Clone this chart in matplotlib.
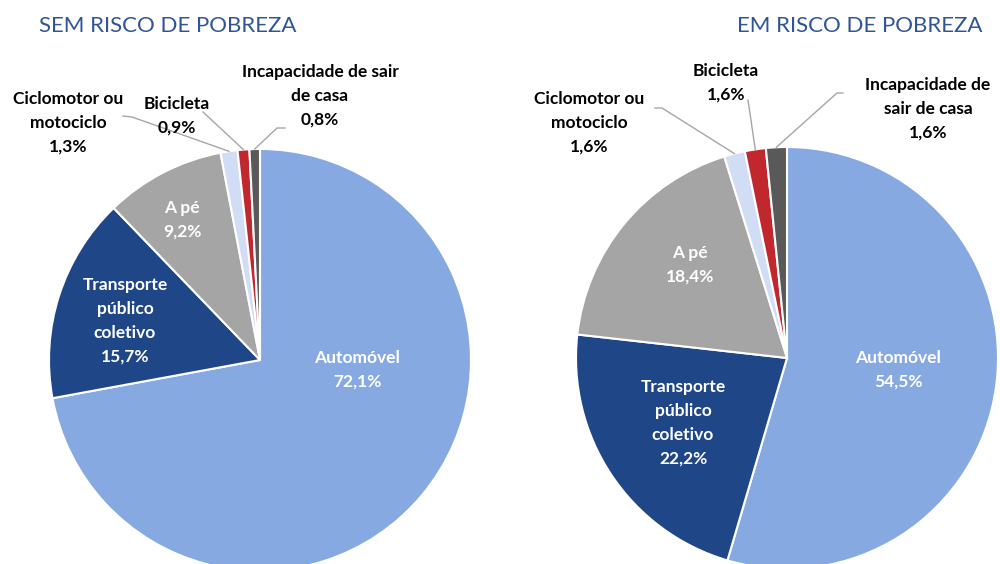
import matplotlib
matplotlib.use("Agg")
from matplotlib import pyplot as plt
import numpy as np

# data
categories = ["Automóvel", "Transporte público coletivo", "A pé",
              "Ciclomotor ou motociclo", "Bicicleta", "Incapacidade de sair de casa"]
sem_risco = [72.1, 15.7, 9.2, 1.3, 0.9, 0.8]
em_risco = [54.5, 22.2, 18.4, 1.6, 1.6, 1.6]
titles = ["SEM RISCO DE POBREZA", "EM RISCO DE POBREZA"]

colors = ["#87A9E1", "#1F4787", "#A5A5A5", "#D0DDF4", "#C0282E", "#595959"]
inside_color = "white"

plt.rcParams['font.family'] = ['Lato', 'DejaVu Sans']

fig = plt.figure(figsize=(10, 5.64), dpi=100)
ax = fig.add_axes([0, 0, 1, 1])


def fmt(v):
    return f"{v:.1f}".replace(".", ",") + "%"


# label layout (pixel positions, y down) for each pie
layouts = [
    {
        "center": (260, 360), "radius": 211, "title": (168, 26),
        "labels": [
            ("Automóvel", (357, 370), None),
            ("Transporte\npúblico\ncoletivo", (125, 321), None),
            ("A pé", (182, 220), None),
            ("Ciclomotor ou\nmotociclo", (68, 123), [(123, 116), (132, 117)]),
            ("Bicicleta", (177, 116), [(203, 112)]),
            ("Incapacidade de sair\nde casa", (320, 96), [(285, 128), (277, 128)]),
        ],
    },
    {
        "center": (787, 358), "radius": 211, "title": (860, 26),
        "labels": [
            ("Automóvel", (898, 370), None),
            ("Transporte\npúblico\ncoletivo", (683, 423), None),
            ("A pé", (690, 265), None),
            ("Ciclomotor ou\nmotociclo", (589, 123), [(655, 108), (662, 108)]),
            ("Bicicleta", (726, 83), [(748, 100)]),
            ("Incapacidade de\nsair de casa", (928, 109), [(843, 93), (837, 93)]),
        ],
    },
]

for values, lay, title in zip([sem_risco, em_risco], layouts, titles):
    wedges, _ = ax.pie(values, colors=colors, startangle=-90, counterclock=True,
                       center=lay["center"], radius=lay["radius"],
                       wedgeprops=dict(edgecolor="white", linewidth=1.5))
    cx, cy = lay["center"]
    r = lay["radius"]
    for w, v, (name, pos, leader) in zip(wedges, values, lay["labels"]):
        txt = name + "\n" + fmt(v)
        if leader is None:
            ax.text(pos[0], pos[1], txt, ha="center", va="center", color=inside_color,
                    fontsize=12.5, fontweight="bold", linespacing=1.6)
        else:
            ax.text(pos[0], pos[1], txt, ha="center", va="center", color="black",
                    fontsize=12.5, fontweight="bold", linespacing=1.6)
            mid = np.deg2rad((w.theta1 + w.theta2) / 2)
            ex, ey = cx + r * np.cos(mid), cy + r * np.sin(mid)
            xs = [p[0] for p in leader] + [ex]
            ys = [p[1] for p in leader] + [ey]
            ax.plot(xs, ys, color="#A6A6A6", linewidth=1)
    ax.text(lay["title"][0], lay["title"][1], title, ha="center", va="center",
            color="#2F5597", fontsize=16)

ax.set_xlim(0, 1000)
ax.set_ylim(564, 0)
ax.set_aspect("equal")
ax.axis("off")

fig.savefig("out.png", dpi=100)
